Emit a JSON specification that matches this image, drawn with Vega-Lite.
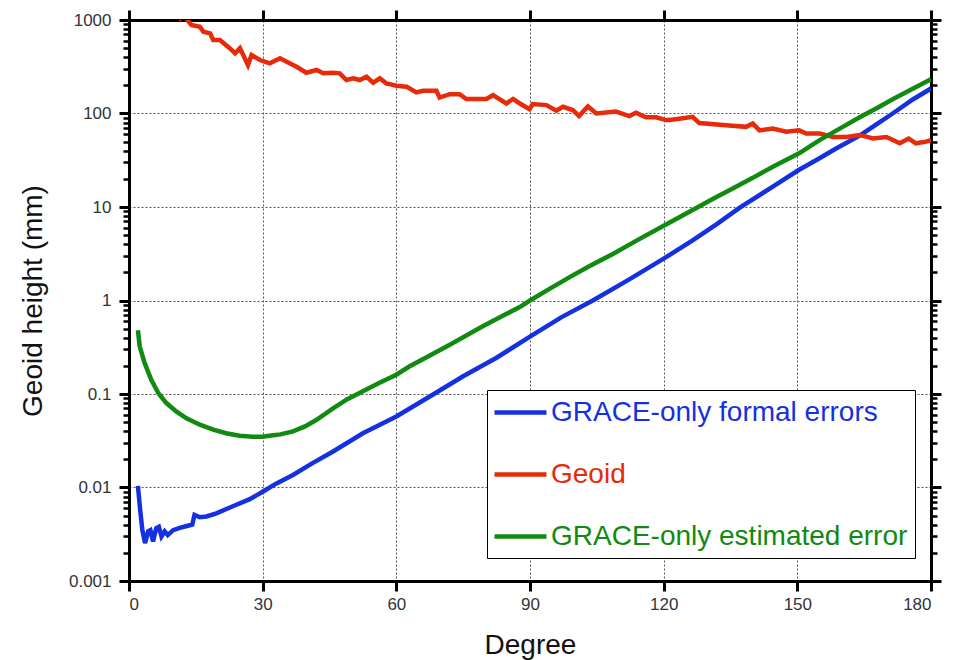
{
  "$schema": "https://vega.github.io/schema/vega-lite/v6.json",
  "width": 802,
  "height": 561,
  "autosize": {"type": "none"},
  "padding": {"left": 129, "top": 20, "right": 28, "bottom": 79},
  "background": "white",
  "config": {
    "view": {"stroke": null},
    "font": "Liberation Sans",
    "axis": {"domainColor": "black", "domainWidth": 3, "domainCap": "square", "tickColor": "black", "tickWidth": 3, "tickSize": 10, "labelColor": "#333", "labelFontSize": 17, "titleColor": "#111", "titleFontWeight": "normal", "titleFontSize": 28}
  },
  "data": {"values": [
    {"deg": 2, "value": 0.0104, "series": "GRACE-only formal errors"},
    {"deg": 2.5, "value": 0.0058, "series": "GRACE-only formal errors"},
    {"deg": 3, "value": 0.0035, "series": "GRACE-only formal errors"},
    {"deg": 3.6, "value": 0.00254, "series": "GRACE-only formal errors"},
    {"deg": 4.3, "value": 0.0034, "series": "GRACE-only formal errors"},
    {"deg": 4.8, "value": 0.0035, "series": "GRACE-only formal errors"},
    {"deg": 5.4, "value": 0.00264, "series": "GRACE-only formal errors"},
    {"deg": 6.1, "value": 0.00367, "series": "GRACE-only formal errors"},
    {"deg": 6.7, "value": 0.0038, "series": "GRACE-only formal errors"},
    {"deg": 7.3, "value": 0.003, "series": "GRACE-only formal errors"},
    {"deg": 8, "value": 0.0034, "series": "GRACE-only formal errors"},
    {"deg": 8.7, "value": 0.0031, "series": "GRACE-only formal errors"},
    {"deg": 9.9, "value": 0.0035, "series": "GRACE-only formal errors"},
    {"deg": 11.4, "value": 0.0037, "series": "GRACE-only formal errors"},
    {"deg": 13.2, "value": 0.0039, "series": "GRACE-only formal errors"},
    {"deg": 14.2, "value": 0.004, "series": "GRACE-only formal errors"},
    {"deg": 14.7, "value": 0.0051, "series": "GRACE-only formal errors"},
    {"deg": 15.9, "value": 0.0048, "series": "GRACE-only formal errors"},
    {"deg": 17.4, "value": 0.0049, "series": "GRACE-only formal errors"},
    {"deg": 19.6, "value": 0.0053, "series": "GRACE-only formal errors"},
    {"deg": 23.3, "value": 0.0063, "series": "GRACE-only formal errors"},
    {"deg": 27.1, "value": 0.0075, "series": "GRACE-only formal errors"},
    {"deg": 30, "value": 0.009, "series": "GRACE-only formal errors"},
    {"deg": 33, "value": 0.011, "series": "GRACE-only formal errors"},
    {"deg": 36.8, "value": 0.0136, "series": "GRACE-only formal errors"},
    {"deg": 41, "value": 0.018, "series": "GRACE-only formal errors"},
    {"deg": 45.8, "value": 0.0243, "series": "GRACE-only formal errors"},
    {"deg": 52.5, "value": 0.038, "series": "GRACE-only formal errors"},
    {"deg": 60, "value": 0.0575, "series": "GRACE-only formal errors"},
    {"deg": 67.5, "value": 0.094, "series": "GRACE-only formal errors"},
    {"deg": 75, "value": 0.155, "series": "GRACE-only formal errors"},
    {"deg": 82.4, "value": 0.243, "series": "GRACE-only formal errors"},
    {"deg": 90, "value": 0.41, "series": "GRACE-only formal errors"},
    {"deg": 97, "value": 0.66, "series": "GRACE-only formal errors"},
    {"deg": 104.1, "value": 1.0, "series": "GRACE-only formal errors"},
    {"deg": 112, "value": 1.65, "series": "GRACE-only formal errors"},
    {"deg": 120, "value": 2.8, "series": "GRACE-only formal errors"},
    {"deg": 126.5, "value": 4.4, "series": "GRACE-only formal errors"},
    {"deg": 132, "value": 6.6, "series": "GRACE-only formal errors"},
    {"deg": 137, "value": 9.8, "series": "GRACE-only formal errors"},
    {"deg": 144.5, "value": 16.5, "series": "GRACE-only formal errors"},
    {"deg": 150.4, "value": 25, "series": "GRACE-only formal errors"},
    {"deg": 154.2, "value": 31.6, "series": "GRACE-only formal errors"},
    {"deg": 159, "value": 43, "series": "GRACE-only formal errors"},
    {"deg": 164, "value": 58, "series": "GRACE-only formal errors"},
    {"deg": 168, "value": 78, "series": "GRACE-only formal errors"},
    {"deg": 171.4, "value": 100, "series": "GRACE-only formal errors"},
    {"deg": 176, "value": 142, "series": "GRACE-only formal errors"},
    {"deg": 180, "value": 185, "series": "GRACE-only formal errors"},
    {"deg": 11.2, "value": 990, "series": "Geoid"},
    {"deg": 12.2, "value": 1150, "series": "Geoid"},
    {"deg": 13.2, "value": 985, "series": "Geoid"},
    {"deg": 14, "value": 884, "series": "Geoid"},
    {"deg": 15.9, "value": 848, "series": "Geoid"},
    {"deg": 16.7, "value": 750, "series": "Geoid"},
    {"deg": 18.2, "value": 720, "series": "Geoid"},
    {"deg": 18.9, "value": 611, "series": "Geoid"},
    {"deg": 20.4, "value": 611, "series": "Geoid"},
    {"deg": 22.6, "value": 500, "series": "Geoid"},
    {"deg": 23.8, "value": 440, "series": "Geoid"},
    {"deg": 24.9, "value": 500, "series": "Geoid"},
    {"deg": 26.7, "value": 330, "series": "Geoid"},
    {"deg": 27.5, "value": 422, "series": "Geoid"},
    {"deg": 29.4, "value": 373, "series": "Geoid"},
    {"deg": 31.6, "value": 344, "series": "Geoid"},
    {"deg": 33.9, "value": 389, "series": "Geoid"},
    {"deg": 35.4, "value": 358, "series": "Geoid"},
    {"deg": 37.6, "value": 316, "series": "Geoid"},
    {"deg": 39.8, "value": 273, "series": "Geoid"},
    {"deg": 42.1, "value": 292, "series": "Geoid"},
    {"deg": 43.6, "value": 269, "series": "Geoid"},
    {"deg": 45.8, "value": 273, "series": "Geoid"},
    {"deg": 47.3, "value": 269, "series": "Geoid"},
    {"deg": 48.8, "value": 228, "series": "Geoid"},
    {"deg": 50.3, "value": 238, "series": "Geoid"},
    {"deg": 51.8, "value": 228, "series": "Geoid"},
    {"deg": 53.3, "value": 247, "series": "Geoid"},
    {"deg": 54.8, "value": 214, "series": "Geoid"},
    {"deg": 56.3, "value": 238, "series": "Geoid"},
    {"deg": 57.8, "value": 209, "series": "Geoid"},
    {"deg": 58.5, "value": 206, "series": "Geoid"},
    {"deg": 60, "value": 198, "series": "Geoid"},
    {"deg": 62.3, "value": 193, "series": "Geoid"},
    {"deg": 64.5, "value": 168, "series": "Geoid"},
    {"deg": 66, "value": 175, "series": "Geoid"},
    {"deg": 69, "value": 175, "series": "Geoid"},
    {"deg": 69.7, "value": 148, "series": "Geoid"},
    {"deg": 72, "value": 161, "series": "Geoid"},
    {"deg": 74.2, "value": 161, "series": "Geoid"},
    {"deg": 75.7, "value": 143, "series": "Geoid"},
    {"deg": 80.2, "value": 143, "series": "Geoid"},
    {"deg": 81.7, "value": 157, "series": "Geoid"},
    {"deg": 84.7, "value": 128, "series": "Geoid"},
    {"deg": 86.2, "value": 143, "series": "Geoid"},
    {"deg": 87.7, "value": 128, "series": "Geoid"},
    {"deg": 89.9, "value": 111, "series": "Geoid"},
    {"deg": 90.6, "value": 126, "series": "Geoid"},
    {"deg": 93.7, "value": 123, "series": "Geoid"},
    {"deg": 95.9, "value": 107, "series": "Geoid"},
    {"deg": 97.4, "value": 118, "series": "Geoid"},
    {"deg": 99.6, "value": 109, "series": "Geoid"},
    {"deg": 101, "value": 94, "series": "Geoid"},
    {"deg": 103, "value": 119, "series": "Geoid"},
    {"deg": 104.9, "value": 100, "series": "Geoid"},
    {"deg": 109.3, "value": 105, "series": "Geoid"},
    {"deg": 112.3, "value": 94, "series": "Geoid"},
    {"deg": 113.8, "value": 102, "series": "Geoid"},
    {"deg": 116, "value": 91, "series": "Geoid"},
    {"deg": 118.3, "value": 91, "series": "Geoid"},
    {"deg": 120.5, "value": 85, "series": "Geoid"},
    {"deg": 121.3, "value": 85, "series": "Geoid"},
    {"deg": 123.5, "value": 88, "series": "Geoid"},
    {"deg": 126.5, "value": 92, "series": "Geoid"},
    {"deg": 128, "value": 79, "series": "Geoid"},
    {"deg": 134, "value": 75, "series": "Geoid"},
    {"deg": 138.5, "value": 72, "series": "Geoid"},
    {"deg": 140, "value": 78, "series": "Geoid"},
    {"deg": 141.5, "value": 66, "series": "Geoid"},
    {"deg": 144.5, "value": 69, "series": "Geoid"},
    {"deg": 147.5, "value": 64, "series": "Geoid"},
    {"deg": 150.4, "value": 66, "series": "Geoid"},
    {"deg": 152, "value": 61, "series": "Geoid"},
    {"deg": 155, "value": 61, "series": "Geoid"},
    {"deg": 158, "value": 56, "series": "Geoid"},
    {"deg": 161, "value": 56, "series": "Geoid"},
    {"deg": 164, "value": 59, "series": "Geoid"},
    {"deg": 167, "value": 54, "series": "Geoid"},
    {"deg": 170, "value": 56, "series": "Geoid"},
    {"deg": 173, "value": 48, "series": "Geoid"},
    {"deg": 175, "value": 54, "series": "Geoid"},
    {"deg": 176.6, "value": 48, "series": "Geoid"},
    {"deg": 178.9, "value": 50, "series": "Geoid"},
    {"deg": 180, "value": 52, "series": "Geoid"},
    {"deg": 2, "value": 0.48, "series": "GRACE-only estimated error"},
    {"deg": 2.4, "value": 0.324, "series": "GRACE-only estimated error"},
    {"deg": 3.5, "value": 0.215, "series": "GRACE-only estimated error"},
    {"deg": 5, "value": 0.142, "series": "GRACE-only estimated error"},
    {"deg": 6.6, "value": 0.102, "series": "GRACE-only estimated error"},
    {"deg": 8.4, "value": 0.08, "series": "GRACE-only estimated error"},
    {"deg": 10.6, "value": 0.065, "series": "GRACE-only estimated error"},
    {"deg": 12.9, "value": 0.055, "series": "GRACE-only estimated error"},
    {"deg": 15.9, "value": 0.047, "series": "GRACE-only estimated error"},
    {"deg": 18.9, "value": 0.0415, "series": "GRACE-only estimated error"},
    {"deg": 21.8, "value": 0.038, "series": "GRACE-only estimated error"},
    {"deg": 24.8, "value": 0.0358, "series": "GRACE-only estimated error"},
    {"deg": 27.8, "value": 0.035, "series": "GRACE-only estimated error"},
    {"deg": 30, "value": 0.035, "series": "GRACE-only estimated error"},
    {"deg": 31.5, "value": 0.0358, "series": "GRACE-only estimated error"},
    {"deg": 34, "value": 0.037, "series": "GRACE-only estimated error"},
    {"deg": 36.8, "value": 0.0398, "series": "GRACE-only estimated error"},
    {"deg": 39.5, "value": 0.045, "series": "GRACE-only estimated error"},
    {"deg": 42.1, "value": 0.053, "series": "GRACE-only estimated error"},
    {"deg": 45.8, "value": 0.07, "series": "GRACE-only estimated error"},
    {"deg": 49, "value": 0.088, "series": "GRACE-only estimated error"},
    {"deg": 52.5, "value": 0.107, "series": "GRACE-only estimated error"},
    {"deg": 56, "value": 0.13, "series": "GRACE-only estimated error"},
    {"deg": 60, "value": 0.161, "series": "GRACE-only estimated error"},
    {"deg": 63, "value": 0.198, "series": "GRACE-only estimated error"},
    {"deg": 67, "value": 0.25, "series": "GRACE-only estimated error"},
    {"deg": 72, "value": 0.337, "series": "GRACE-only estimated error"},
    {"deg": 79.4, "value": 0.53, "series": "GRACE-only estimated error"},
    {"deg": 84, "value": 0.69, "series": "GRACE-only estimated error"},
    {"deg": 87.7, "value": 0.85, "series": "GRACE-only estimated error"},
    {"deg": 90, "value": 1.0, "series": "GRACE-only estimated error"},
    {"deg": 94, "value": 1.3, "series": "GRACE-only estimated error"},
    {"deg": 98.9, "value": 1.78, "series": "GRACE-only estimated error"},
    {"deg": 103.5, "value": 2.35, "series": "GRACE-only estimated error"},
    {"deg": 108.6, "value": 3.15, "series": "GRACE-only estimated error"},
    {"deg": 114, "value": 4.4, "series": "GRACE-only estimated error"},
    {"deg": 120, "value": 6.3, "series": "GRACE-only estimated error"},
    {"deg": 126.5, "value": 9.3, "series": "GRACE-only estimated error"},
    {"deg": 131, "value": 12.2, "series": "GRACE-only estimated error"},
    {"deg": 135.5, "value": 15.8, "series": "GRACE-only estimated error"},
    {"deg": 140, "value": 20.5, "series": "GRACE-only estimated error"},
    {"deg": 144.5, "value": 27, "series": "GRACE-only estimated error"},
    {"deg": 150.4, "value": 37.5, "series": "GRACE-only estimated error"},
    {"deg": 155, "value": 52, "series": "GRACE-only estimated error"},
    {"deg": 160, "value": 71, "series": "GRACE-only estimated error"},
    {"deg": 164, "value": 91, "series": "GRACE-only estimated error"},
    {"deg": 168, "value": 115, "series": "GRACE-only estimated error"},
    {"deg": 171.4, "value": 142, "series": "GRACE-only estimated error"},
    {"deg": 176, "value": 185, "series": "GRACE-only estimated error"},
    {"deg": 180, "value": 232, "series": "GRACE-only estimated error"}
  ]},
  "layer": [
    {
      "mark": {"type": "line", "strokeWidth": 4.5, "clip": true},
      "encoding": {
        "x": {"field": "deg", "type": "quantitative", "scale": {"domain": [0, 180], "nice": false, "zero": false},
          "axis": {"orient": "bottom", "values": [0, 30, 60, 90, 120, 150, 180], "grid": true, "gridDash": [2, 2], "gridColor": "#555", "gridWidth": 1, "labelPadding": 5, "title": "Degree", "titlePadding": 19}},
        "y": {"field": "value", "type": "quantitative", "scale": {"type": "log", "domain": [0.001, 1000], "nice": false},
          "axis": {"orient": "left", "values": [0.001, 0.01, 0.1, 1, 10, 100, 1000], "labelExpr": "toString(datum.value)", "grid": true, "gridDash": [2, 2], "gridColor": "#555", "gridWidth": 1, "labelPadding": 8, "title": "Geoid height (mm)", "titlePadding": 21}},
        "color": {"field": "series", "type": "nominal",
          "scale": {"domain": ["GRACE-only formal errors", "Geoid", "GRACE-only estimated error"], "range": ["#1530e0", "#e62a0a", "#108a10"]},
          "legend": {"orient": "none", "legendX": 358, "legendY": 370, "title": null, "symbolType": "M-2,0H2", "symbolSize": 676, "symbolStrokeWidth": 4.5, "symbolOffset": 11, "labelFontSize": 28, "labelOffset": 15, "rowPadding": 32, "padding": 7, "strokeColor": "black", "fillColor": "white", "labelLimit": 600,
            "encode": {"labels": {"update": {"fill": {"scale": "color", "field": "value"}}}}}
        },
        "order": {"field": "deg", "type": "quantitative"}
      }
    },
    {
      "mark": {"type": "line", "opacity": 0},
      "encoding": {
        "x": {"field": "deg", "type": "quantitative", "axis": {"orient": "top", "values": [0, 30, 60, 90, 120, 150, 180], "labels": false, "grid": false, "title": null}},
        "y": {"field": "value", "type": "quantitative", "scale": {"type": "log"}, "axis": {"orient": "right", "values": [0.001, 0.01, 0.1, 1, 10, 100, 1000], "labels": false, "grid": false, "title": null}}
      }
    },
    {
      "mark": {"type": "line", "opacity": 0},
      "encoding": {
        "x": {"field": "deg", "type": "quantitative", "axis": null},
        "y": {"field": "value", "type": "quantitative", "scale": {"type": "log"}, "axis": {"orient": "left", "values": [0.002, 0.003, 0.004, 0.005, 0.006, 0.007, 0.008, 0.009, 0.02, 0.03, 0.04, 0.05, 0.06, 0.07, 0.08, 0.09, 0.2, 0.3, 0.4, 0.5, 0.6, 0.7, 0.8, 0.9, 2, 3, 4, 5, 6, 7, 8, 9, 20, 30, 40, 50, 60, 70, 80, 90, 200, 300, 400, 500, 600, 700, 800, 900], "labels": false, "grid": false, "domain": false, "tickSize": 6, "tickWidth": 2.5, "title": null}}
      }
    },
    {
      "mark": {"type": "line", "opacity": 0},
      "encoding": {
        "x": {"field": "deg", "type": "quantitative", "axis": null},
        "y": {"field": "value", "type": "quantitative", "scale": {"type": "log"}, "axis": {"orient": "right", "values": [0.002, 0.003, 0.004, 0.005, 0.006, 0.007, 0.008, 0.009, 0.02, 0.03, 0.04, 0.05, 0.06, 0.07, 0.08, 0.09, 0.2, 0.3, 0.4, 0.5, 0.6, 0.7, 0.8, 0.9, 2, 3, 4, 5, 6, 7, 8, 9, 20, 30, 40, 50, 60, 70, 80, 90, 200, 300, 400, 500, 600, 700, 800, 900], "labels": false, "grid": false, "domain": false, "tickSize": 6, "tickWidth": 2.5, "title": null}}
      }
    }
  ],
  "resolve": {"axis": {"x": "independent", "y": "independent"}}
}
